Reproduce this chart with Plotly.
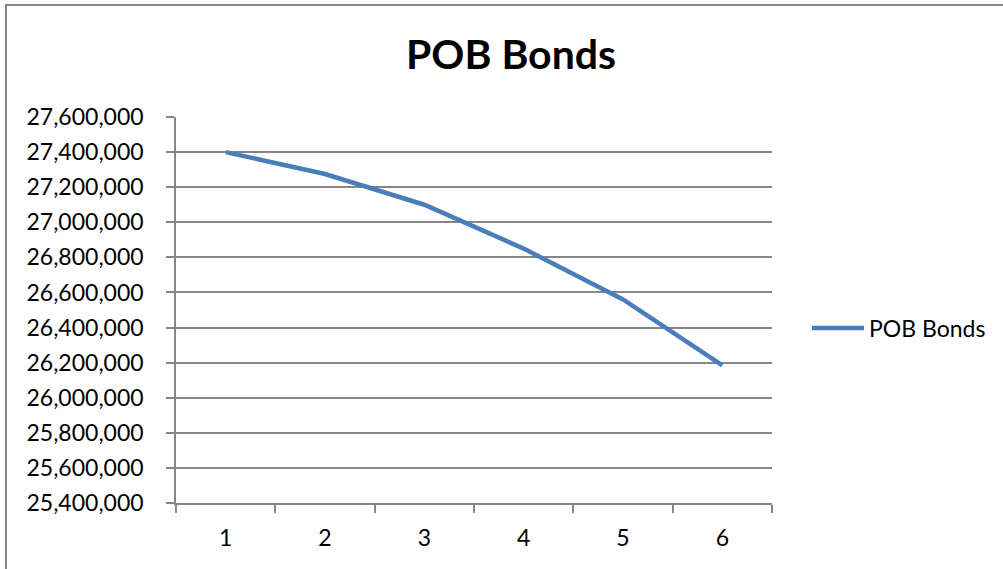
import plotly.graph_objects as go

# Series data
periods = ["1", "2", "3", "4", "5", "6"]
pob_bonds = [27400000, 27275000, 27100000, 26850000, 26560000, 26185000]

# Y axis ticks
y_ticks = list(range(25400000, 27600001, 200000))
y_labels = [f"{v:,}" for v in y_ticks]

FONT = "Lato, 'Open Sans', sans-serif"
GRID = "#868686"

W, H = 1003, 569
L, R, T, B = 176, 231, 117, 66
pw = W - L - R
ph = H - T - B

fig = go.Figure()
fig.add_trace(go.Scatter(
    x=periods, y=pob_bonds, mode="lines", name="POB Bonds",
    line=dict(color="#4A7EBB", width=4.5),
))

fig.update_layout(
    width=W, height=H,
    margin=dict(l=L, r=R, t=T, b=B),
    paper_bgcolor="white", plot_bgcolor="white",
    title=dict(text="<b>POB Bonds</b>", x=511 / W, xanchor="center",
               y=1 - 55 / H, yanchor="middle",
               font=dict(family=FONT, size=41, color="black")),
    font=dict(family=FONT, size=23, color="black"),
    showlegend=True,
    legend=dict(x=(807 - L) / pw, y=(H - B - 328) / ph, xanchor="left", yanchor="middle",
                font=dict(family=FONT, size=23, color="black"),
                bgcolor="rgba(0,0,0,0)", itemwidth=52),
    xaxis=dict(
        type="category", range=[-0.5, 5.5],
        showgrid=False, showline=True, linecolor=GRID, linewidth=1.5,
        ticks="outside", tickson="boundaries", ticklen=8, tickcolor=GRID, tickwidth=1.5,
        ticklabelstandoff=14,
        tickfont=dict(family=FONT, size=23, color="black"), zeroline=False,
    ),
    yaxis=dict(
        range=[25400000, 27600000],
        tickvals=y_ticks, ticktext=y_labels,
        showgrid=True, gridcolor=GRID, gridwidth=1.5,
        showline=True, linecolor=GRID, linewidth=1.5,
        ticks="outside", ticklen=8, tickcolor=GRID, tickwidth=1.5,
        ticklabelstandoff=18,
        tickfont=dict(family=FONT, size=23, color="black"), zeroline=False,
    ),
    shapes=[dict(
        type="rect", xref="paper", yref="paper",
        x0=(6 - L) / pw, x1=(W + 20 - L) / pw,
        y0=-(B + 20) / ph, y1=(H - B - 5) / ph,
        line=dict(color=GRID, width=2), fillcolor="rgba(0,0,0,0)", layer="below",
    )],
)

fig.write_html("out.html")
